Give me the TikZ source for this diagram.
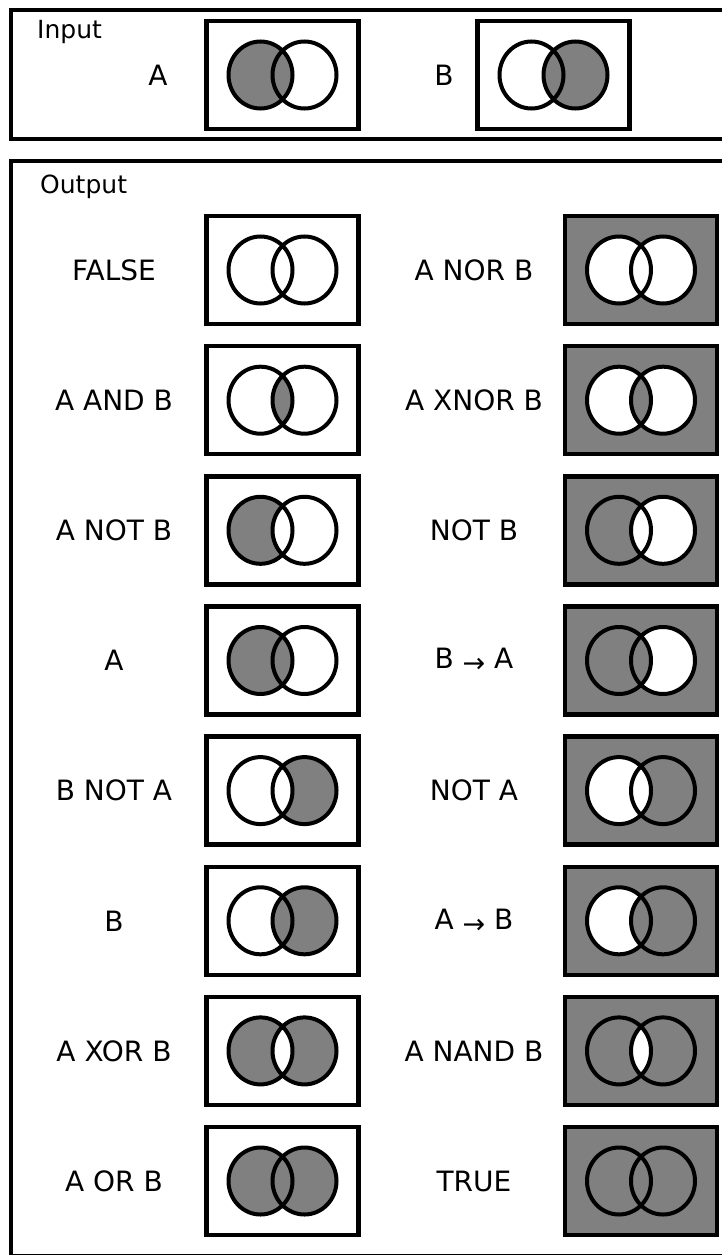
\documentclass[tikz,border=0pt]{standalone}
\usepackage{fontspec}
\setmainfont{DejaVu Sans}
\definecolor{vgray}{HTML}{808080}
\newcommand\smallarrow{\raisebox{-4pt}{\fontsize{27}{27}\selectfont →}}
\tikzset{
  vbox/.style={rectangle, draw, line width=4.5pt, minimum width=152pt, minimum height=108pt, inner sep=0pt},
  ring/.style={line width=4pt},
  lbl/.style={font=\fontsize{28}{30}\selectfont, inner sep=0pt},
  head/.style={font=\fontsize{25}{27}\selectfont, anchor=base west, inner sep=0pt},
  frame/.style={line width=4.5pt},
  circ/.style={x radius=32pt, y radius=33.5pt}
}
% name, x, y, background, A-only, A-and-B, B-only
\newcommand\vennbox[7]{%
  \node[vbox, fill=#4] (#1) at (#2,#3) {};
  \fill[#5] ([xshift=-22pt]#1.center) ellipse [circ];
  \fill[#7] ([xshift=22pt]#1.center) ellipse [circ];
  \begin{scope}
    \clip ([xshift=-22pt]#1.center) ellipse [circ];
    \fill[#6] ([xshift=22pt]#1.center) ellipse [circ];
  \end{scope}
  \draw[ring] ([xshift=-22pt]#1.center) ellipse [circ]
              ([xshift=22pt]#1.center) ellipse [circ];
}
\begin{document}
\begin{tikzpicture}[x=1pt, y=-1pt]
\useasboundingbox (0,0) rectangle (722,1255);
\begin{scope}
\clip (0,0) rectangle (722,1255);
% frames
\draw[frame] (11,10) rectangle (740,139);
\draw[frame] (11,161) rectangle (740,1256);
\node[head] (inputhead) at (37,38) {Input};
\node[head] (outputhead) at (40,193) {Output};
% input
\node[lbl] (labA) at (158,75) {A};
\vennbox{inA}{282.5}{75}{white}{vgray}{vgray}{white}
\node[lbl] (labB) at (444,75) {B};
\vennbox{inB}{553.5}{75}{white}{white}{vgray}{vgray}
% output left column
\node[lbl] (l1) at (114,270) {FALSE};
\vennbox{b1}{282.5}{270}{white}{white}{white}{white}
\node[lbl] (l2) at (114,400.2) {A AND B};
\vennbox{b2}{282.5}{400.2}{white}{white}{vgray}{white}
\node[lbl] (l3) at (114,530.3) {A NOT B};
\vennbox{b3}{282.5}{530.3}{white}{vgray}{white}{white}
\node[lbl] (l4) at (114,660.5) {A};
\vennbox{b4}{282.5}{660.5}{white}{vgray}{vgray}{white}
\node[lbl] (l5) at (114,790.6) {B NOT A};
\vennbox{b5}{282.5}{790.6}{white}{white}{white}{vgray}
\node[lbl] (l6) at (114,920.8) {B};
\vennbox{b6}{282.5}{920.8}{white}{white}{vgray}{vgray}
\node[lbl] (l7) at (114,1050.9) {A XOR B};
\vennbox{b7}{282.5}{1050.9}{white}{vgray}{white}{vgray}
\node[lbl] (l8) at (114,1181) {A OR B};
\vennbox{b8}{282.5}{1181}{white}{vgray}{vgray}{vgray}
% output right column
\node[lbl] (r1) at (474,270) {A NOR B};
\vennbox{c1}{641}{270}{vgray}{white}{white}{white}
\node[lbl] (r2) at (474,400.2) {A XNOR B};
\vennbox{c2}{641}{400.2}{vgray}{white}{vgray}{white}
\node[lbl] (r3) at (474,530.3) {NOT B};
\vennbox{c3}{641}{530.3}{vgray}{vgray}{white}{white}
\node[lbl] (r4) at (474,660.5) {B \smallarrow\ A};
\vennbox{c4}{641}{660.5}{vgray}{vgray}{vgray}{white}
\node[lbl] (r5) at (474,790.6) {NOT A};
\vennbox{c5}{641}{790.6}{vgray}{white}{white}{vgray}
\node[lbl] (r6) at (474,920.8) {A \smallarrow\ B};
\vennbox{c6}{641}{920.8}{vgray}{white}{vgray}{vgray}
\node[lbl] (r7) at (474,1050.9) {A NAND B};
\vennbox{c7}{641}{1050.9}{vgray}{vgray}{white}{vgray}
\node[lbl] (r8) at (474,1181) {TRUE};
\vennbox{c8}{641}{1181}{vgray}{vgray}{vgray}{vgray}
\end{scope}
\end{tikzpicture}
\end{document}
